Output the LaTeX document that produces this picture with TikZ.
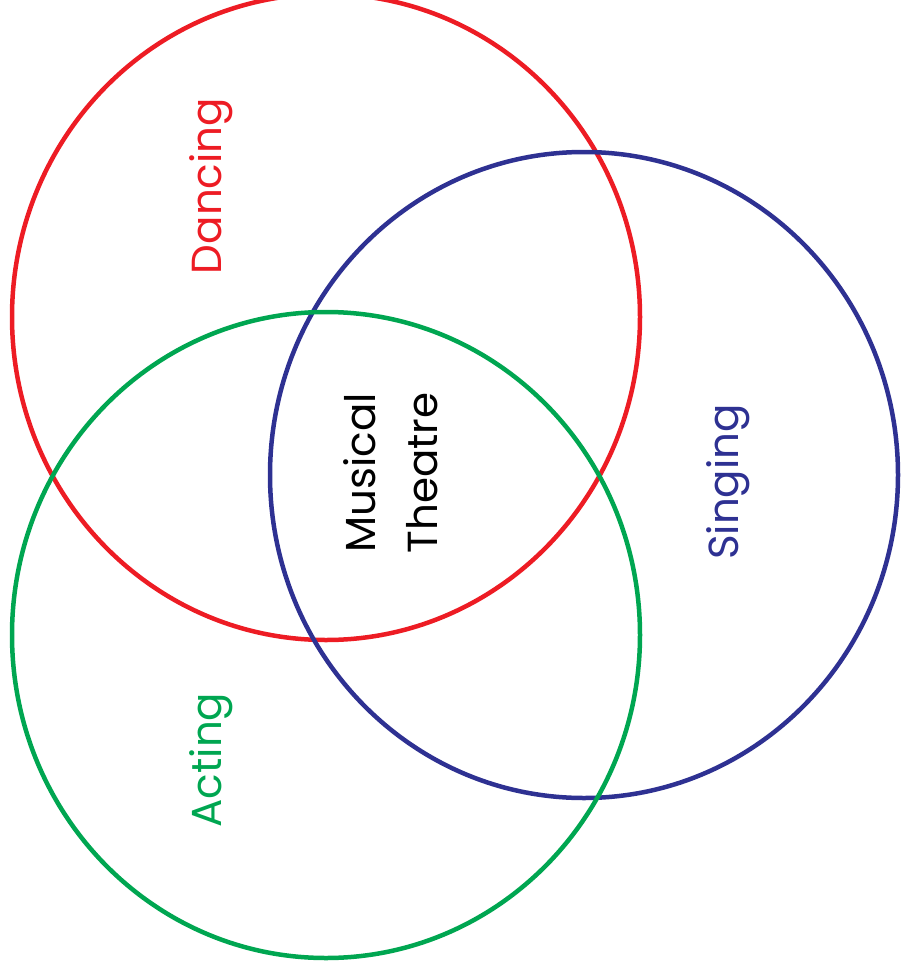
\documentclass[tikz,border=0pt]{standalone}
\usepackage{fontspec}
\setmainfont{Poppins}
\definecolor{dancered}{HTML}{ED1C24}
\definecolor{singblue}{HTML}{2E3192}
\definecolor{actgreen}{HTML}{00A651}

\begin{document}
\begin{tikzpicture}[
  x=1pt, y=-1pt,
  font=\fontsize{42}{62}\selectfont,
  ring/.style={line width=4.5pt},
  label/.style={rotate=90, inner sep=0pt, align=center}
]
\useasboundingbox (0,0) rectangle (901,972);
\clip (0,0) rectangle (901,972);

% three overlapping circles
\draw[ring, dancered] (326,317) ellipse[x radius=314, y radius=323];
\draw[ring, singblue] (584,475) ellipse[x radius=314, y radius=323];
\draw[ring, actgreen] (326,635) ellipse[x radius=314, y radius=323];

\node[label, text=dancered] (dancing) at (211,186) {Dancing};
\node[label, text=singblue] (singing) at (728,482) {Singing};
\node[label, text=actgreen] (acting) at (211,760) {Acting};
\node[label, text=black] (musical) at (391,473) {Musical\\Theatre};

\end{tikzpicture}
\end{document}
